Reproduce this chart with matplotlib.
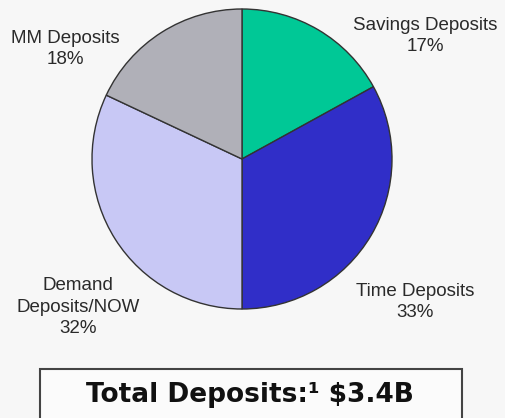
import matplotlib.pyplot as plt
from matplotlib.patches import Rectangle

# Deposit mix (clockwise from 12 o'clock)
categories = ['Savings Deposits', 'Time Deposits', 'Demand\nDeposits/NOW', 'MM Deposits']
shares = [17, 33, 32, 18]
colors = ['#00C896', '#302EC8', '#C8C8F5', '#B0B0B8']
total_label = 'Total Deposits:¹ $3.4B'

W, H = 505, 418
fig = plt.figure(figsize=(W / 100, H / 100), dpi=100, facecolor='#f7f7f7')

# pie axes: centre ~ (242, 159) px, radius ~150 px
cx, cy, r = 242, 159, 150
ax = fig.add_axes([(cx - r) / W, (H - cy - r) / H, 2 * r / W, 2 * r / H])
ax.pie(shares, colors=colors, startangle=90, counterclock=False,
       wedgeprops=dict(edgecolor='#333333', linewidth=1))
ax.set_xlim(-1, 1)
ax.set_ylim(-1, 1)
ax.set_aspect('auto')
ax.axis('off')

# category labels placed outside the pie
label_pos = [(425, 36), (415, 302), (78, 307), (65, 49)]
for name, val, (px, py) in zip(categories, shares, label_pos):
    fig.text(px / W, 1 - py / H, f'{name}\n{val}%', ha='center', va='center',
             fontsize=13.5, color='#2a2a2a', family='Liberation Sans',
             linespacing=1.38)

# total deposits box (runs off the bottom edge)
fig.patches.append(Rectangle((40 / W, -0.05), 422 / W, (H - 369) / H + 0.05,
                             transform=fig.transFigure, facecolor='#fbfbfb',
                             edgecolor='#444444', linewidth=1.5))
fig.text(250 / W, 1 - 395 / H, total_label, ha='center', va='center',
         fontsize=19, fontweight='bold', color='#111111')

fig.savefig('out.png', dpi=100, facecolor=fig.get_facecolor())
